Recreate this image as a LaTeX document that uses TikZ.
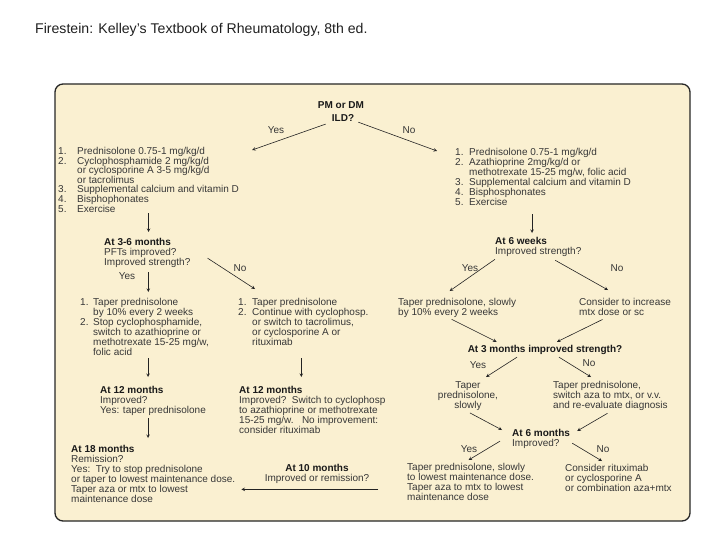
\documentclass[tikz,border=0pt]{standalone}
\usepackage{fontspec}
\setmainfont{Liberation Sans}
\usetikzlibrary{arrows}
\definecolor{cream}{RGB}{250,240,209}
\definecolor{txtgray}{RGB}{55,55,55}
\definecolor{arrgray}{RGB}{35,35,35}
\tikzstyle{frame} = [rounded corners=8pt, fill=cream, draw=black!85, line width=1.3pt]
\tikzstyle{txt} = [inner sep=0pt, anchor=north west, align=left, text=txtgray, font=\fontsize{10}{10}\selectfont]
\tikzstyle{lbl} = [inner sep=0pt, text=txtgray, font=\fontsize{10}{10}\selectfont]
\tikzstyle{head} = [inner sep=0pt, text=black!90, font=\bfseries\fontsize{10}{10}\selectfont]
\tikzstyle{arrow} = [semithick,->,>=stealth,draw=arrgray]
\newcommand{\lnum}[2][14pt]{\makebox[#1][l]{#2}}
\newcommand{\hd}[1]{{\bfseries\color{black!90}#1}}

\begin{document}
\begin{tikzpicture}[x=1pt,y=-1pt]
        \useasboundingbox (0,0) rectangle (720,540);
        \node [inner sep=0pt, anchor=west, font=\fontsize{14.1}{14}\selectfont, text=black!88] at (35,30) (title) {Firestein: Kelley's Textbook of Rheumatology, 8th ed.};
        \draw [frame] (55,84) rectangle (690,521);

        % top question
        \node [head] at (341,105) (pm) {PM or DM};
        \node [head] at (343,118) (ild) {ILD?};
        \node [lbl] at (276,130) (yes1) {Yes};
        \node [lbl] at (409,130) (no1) {No};

        % ILD branch
        \node [txt, font=\fontsize{10}{9.6}\selectfont] at (58,147) (lsA) {\lnum[19pt]{1.}Prednisolone 0.75-1 mg/kg/d\\
          \lnum[19pt]{2.}Cyclophosphamide 2 mg/kg/d\\
          \lnum[19pt]{}or cyclosporine A 3-5 mg/kg/d\\
          \lnum[19pt]{}or tacrolimus\\
          \lnum[19pt]{3.}Supplemental calcium and vitamin D\\
          \lnum[19pt]{4.}Bisphophonates\\
          \lnum[19pt]{5.}Exercise};
        \node [txt] at (104,238) (m36) {\hd{At 3-6 months}\\PFTs improved?\\Improved strength?};
        \node [lbl] at (127,276) (yes2) {Yes};
        \node [lbl] at (240,268) (no2) {No};
        \node [txt] at (80,298) (lsC) {\lnum[13pt]{1.}Taper prednisolone\\
          \lnum[13pt]{}by 10\% every 2 weeks\\
          \lnum[13pt]{2.}Stop cyclophosphamide,\\
          \lnum[13pt]{}switch to azathioprine or\\
          \lnum[13pt]{}methotrexate 15-25 mg/w,\\
          \lnum[13pt]{}folic acid};
        \node [txt] at (238,298) (lsD) {\lnum{1.}Taper prednisolone\\
          \lnum{2.}Continue with cyclophosp.\\
          \lnum{}or switch to tacrolimus,\\
          \lnum{}or cyclosporine A or\\
          \lnum{}rituximab};
        \node [txt] at (100,386) (m12a) {\hd{At 12 months}\\Improved?\\Yes: taper prednisolone};
        \node [txt] at (239,386) (m12b) {\hd{At 12 months}\\Improved?\ \ Switch to cyclophosp\\to azathioprine or methotrexate\\15-25 mg/w.\ \ \ No improvement:\\consider rituximab};
        \node [txt] at (71,445) (m18) {\hd{At 18 months}\\Remission?\\Yes:\ \ Try to stop prednisolone\\or taper to lowest maintenance dose.\\Taper aza or mtx to lowest\\maintenance dose};
        \node [txt, anchor=north, align=center] at (317,464) (m10) {\hd{At 10 months}\\Improved or remission?};

        % no ILD branch
        \node [txt] at (455,148) (lsB) {\lnum{1.}Prednisolone 0.75-1 mg/kg/d\\
          \lnum{2.}Azathioprine 2mg/kg/d or\\
          \lnum{}methotrexate 15-25 mg/w, folic acid\\
          \lnum{3.}Supplemental calcium and vitamin D\\
          \lnum{4.}Bisphosphonates\\
          \lnum{5.}Exercise};
        \node [txt] at (495,237) (w6) {\hd{At 6 weeks}\\Improved strength?};
        \node [lbl] at (470,268) (yes3) {Yes};
        \node [lbl] at (617,268) (no3) {No};
        \node [txt] at (398,298) (tpA) {Taper prednisolone, slowly\\by 10\% every 2 weeks};
        \node [txt] at (579,298) (cons) {Consider to increase\\mtx dose or sc};
        \node [head] at (545,350) (m3) {At 3 months improved strength?};
        \node [lbl] at (478,365) (yes4) {Yes};
        \node [lbl] at (589,363) (no4) {No};
        \node [txt, anchor=north, align=center] at (468,381) (tpB) {Taper\\prednisolone,\\slowly};
        \node [txt] at (553,381) (tpC) {Taper prednisolone,\\switch aza to mtx, or v.v.\\and re-evaluate diagnosis};
        \node [txt] at (512,429) (m6) {\hd{At 6 months}\\Improved?};
        \node [lbl] at (469,449) (yes5) {Yes};
        \node [lbl] at (603,449) (no5) {No};
        \node [txt] at (407,463) (tpD) {Taper prednisolone, slowly\\to lowest maintenance dose.\\Taper aza to mtx to lowest\\maintenance dose};
        \node [txt] at (565,464) (rtx) {Consider rituximab\\or cyclosporine A\\or combination aza+mtx};

        % arrows, left side
        \draw [arrow] ([shift={(-6,2.4)}]ild.south west) -- ([shift={(13,3)}]lsA.north east);
        \draw [arrow, shorten <=1pt, shorten >=6pt] (lsA.south) -- (lsA.south |- m36.north);
        \draw [arrow, shorten <=4.6pt, shorten >=6pt] ([xshift=1pt]m36.south) -- ([xshift=1pt]m36.south |- lsC.north);
        \draw [arrow] ([shift={(17,5.3)}]m36.east) -- ([shift={(17,-9)}]lsD.north west);
        \draw [arrow, shorten <=2.7pt, shorten >=9pt] ([xshift=3.5pt]lsC.south) -- ([xshift=3.5pt]lsC.south |- m12a.north);
        \draw [arrow, shorten <=12.7pt, shorten >=9pt] ([xshift=-2pt]lsD.south) -- ([xshift=-2pt]lsD.south |- m12b.north);
        \draw [arrow, shorten <=2.6pt, shorten >=7pt] ([xshift=-5pt]m12a.south) -- ([xshift=-5pt]m12a.south |- m18.north);
        \coordinate (tail10) at ([shift={(9,5.6)}]m10.south east);
        \draw [arrow, shorten >=6pt] (tail10) -- (tail10 -| m18.east);

        % arrows, right side
        \draw [arrow] ([shift={(4,0.5)}]ild.south east) -- ([shift={(-18,3)}]lsB.north west);
        \draw [arrow, shorten <=8.7pt, shorten >=4pt] ([xshift=-11pt]lsB.south) -- ([xshift=-11pt]lsB.south |- w6.north);
        \draw [arrow] ([shift={(0,2.6)}]w6.south west) -- ([shift={(-7.5,-7)}]tpA.north);
        \draw [arrow] ([shift={(17,3.6)}]w6.south) -- ([shift={(29,-8)}]cons.north west);
        \draw [arrow] ([shift={(-5.5,1.6)}]tpA.south) -- ([shift={(29,-3.3)}]m3.north west);
        \draw [arrow] ([shift={(-22.5,3.7)}]cons.south) -- ([shift={(12,-3.3)}]m3.north);
        \draw [arrow] ([shift={(-28,2.3)}]m3.south) -- ([shift={(18,-4)}]tpB.north);
        \draw [arrow] ([shift={(14,2.3)}]m3.south) -- ([shift={(38,-4)}]tpC.north west);
        \draw [arrow] ([shift={(2,2.6)}]tpB.south) -- ([shift={(-10,1)}]m6.north west);
        \draw [arrow] ([shift={(-3,2.6)}]tpC.south) -- ([shift={(7,2)}]m6.north east);
        \draw [arrow] ([shift={(-12,2.3)}]m6.west) -- ([shift={(-2,-3)}]tpD.north);
        \draw [arrow] ([shift={(2,4.3)}]m6.east) -- ([shift={(37,-3)}]rtx.north west);
\end{tikzpicture}
\end{document}
